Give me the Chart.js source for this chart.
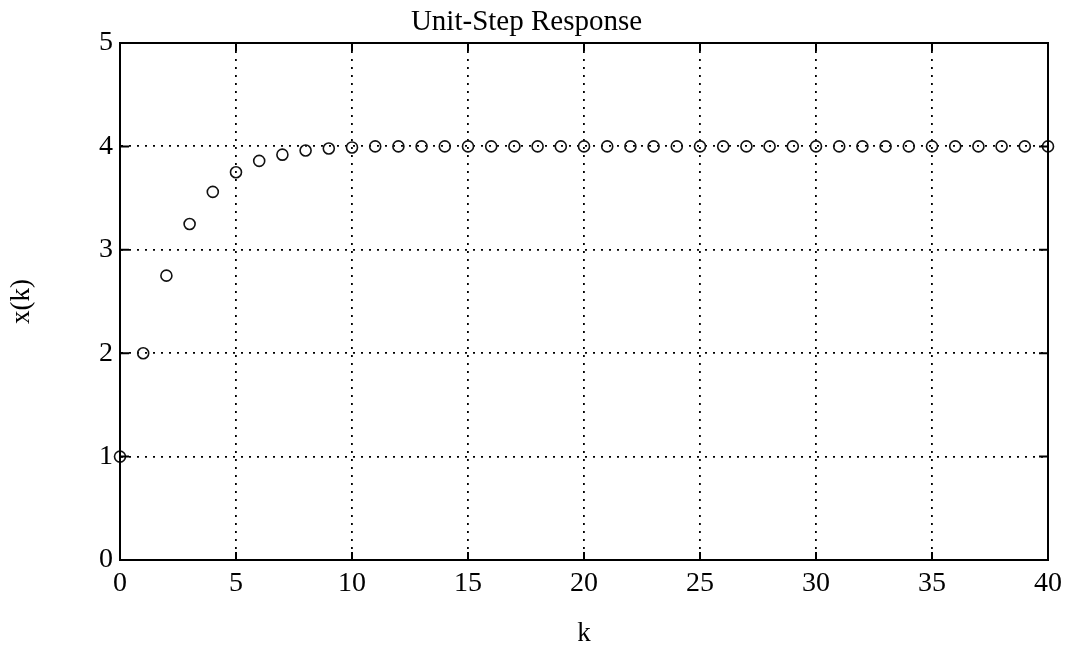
<!DOCTYPE html>
<html>
<head>
<meta charset="utf-8">
<title>Unit-Step Response</title>
<script src="https://cdn.jsdelivr.net/npm/chart.js@4"></script>
<style>
  html, body { margin: 0; padding: 0; background: #fff; }
  #wrap { width: 1069px; height: 646px; position: relative; }
</style>
</head>
<body>
<div id="wrap"><canvas id="step-canvas"></canvas></div>
<script>
// values
const kValues = [0, 1, 2, 3, 4, 5, 6, 7, 8, 9, 10, 11, 12, 13, 14, 15, 16, 17, 18, 19, 20,
  21, 22, 23, 24, 25, 26, 27, 28, 29, 30, 31, 32, 33, 34, 35, 36, 37, 38, 39, 40]
const xValues = [1, 2, 2.75, 3.25, 3.56, 3.75, 3.86, 3.92, 3.96, 3.98, 3.99, 4, 4, 4, 4, 4, 4, 4, 4, 4, 4,
  4, 4, 4, 4, 4, 4, 4, 4, 4, 4, 4, 4, 4, 4, 4, 4, 4, 4, 4, 4]
const xTicks = [0, 5, 10, 15, 20, 25, 30, 35, 40]
const yTicks = [0, 1, 2, 3, 4, 5]

const serif = "'Liberation Serif', 'DejaVu Serif', serif"

// box around plot + small inward tick marks (matlab style)
const boxPlugin = {
  id: "box",
  afterDraw(chart) {
    const { ctx, chartArea: a, scales } = chart
    ctx.save()
    ctx.strokeStyle = "#000"
    ctx.lineWidth = 2
    ctx.strokeRect(a.left, a.top, a.right - a.left, a.bottom - a.top)
    ctx.lineWidth = 2
    ctx.beginPath()
    xTicks.forEach((v) => {
      const px = scales.x.getPixelForValue(v)
      ctx.moveTo(px, a.bottom); ctx.lineTo(px, a.bottom - 8)
      ctx.moveTo(px, a.top); ctx.lineTo(px, a.top + 8)
    })
    yTicks.forEach((v) => {
      const py = scales.y.getPixelForValue(v)
      ctx.moveTo(a.left, py); ctx.lineTo(a.left + 9, py)
      ctx.moveTo(a.right, py); ctx.lineTo(a.right - 9, py)
    })
    ctx.stroke()
    ctx.restore()
  },
}

const dotted = {
  color: "#000",
  lineWidth: 1.8,
  drawTicks: false,
}

new Chart(document.getElementById("step-canvas"), {
  type: "scatter",
  data: {
    datasets: [
      {
        label: "x(k)",
        data: kValues.map((k, i) => ({ x: k, y: xValues[i] })),
        showLine: false,
        clip: false,
        pointStyle: "circle",
        pointRadius: 5.5,
        pointHoverRadius: 5.5,
        borderWidth: 1.6,
        borderColor: "#111",
        backgroundColor: "rgba(0,0,0,0)",
      },
    ],
  },
  options: {
    responsive: true,
    maintainAspectRatio: false,
    animation: false,
    layout: { padding: { left: 0, right: 16, top: 0, bottom: 0 } },
    plugins: {
      legend: { display: false },
      tooltip: { enabled: false },
      title: {
        display: true,
        text: "Unit-Step Response",
        color: "#000",
        font: { family: serif, size: 29, weight: "normal", lineHeight: 1.2 },
        padding: { top: 5, bottom: 3.2 },
      },
    },
    scales: {
      x: {
        type: "linear",
        min: 0,
        max: 40,
        afterFit(scale) { scale.height = 86 },
        ticks: {
          stepSize: 5,
          padding: 7,
          color: "#000",
          maxRotation: 0,
          font: { family: serif, size: 28 },
        },
        grid: dotted,
        border: { display: true, color: "#000", width: 2, dash: [2, 6] },
        title: {
          display: true,
          text: "k",
          color: "#000",
          font: { family: serif, size: 27, lineHeight: 0.9 },
          padding: { top: 0, bottom: 0 },
        },
      },
      y: {
        type: "linear",
        min: 0,
        max: 5,
        afterFit(scale) { scale.width = 120 },
        ticks: {
          stepSize: 1,
          padding: 7,
          color: "#000",
          font: { family: serif, size: 28 },
        },
        grid: dotted,
        border: { display: true, color: "#000", width: 2, dash: [2, 6] },
        title: {
          display: true,
          text: "x(k)",
          color: "#000",
          font: { family: serif, size: 27, lineHeight: 1.2 },
          padding: { top: 6, bottom: 0 },
        },
      },
    },
  },
  plugins: [boxPlugin],
})
</script>
</body>
</html>
